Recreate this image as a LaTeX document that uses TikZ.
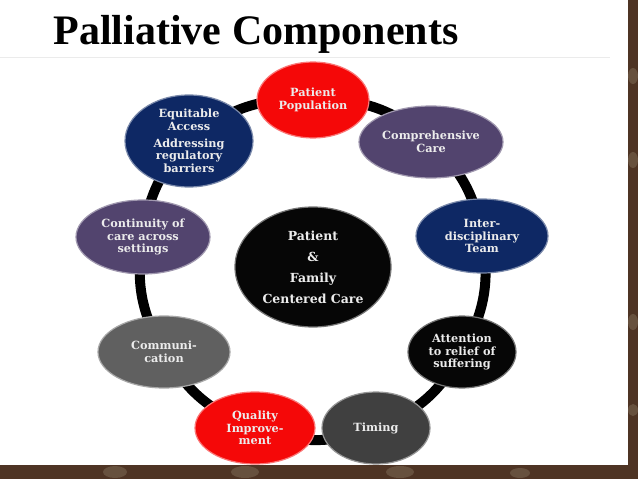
\documentclass[tikz,border=0pt]{standalone}
\usepackage{fontspec}
\setmainfont{Liberation Serif}
\newfontfamily\bubfont{DejaVu Serif}
\usetikzlibrary{shapes.geometric}
\pgfdeclarelayer{bgl}
\pgfdeclarelayer{ringl}
\pgfsetlayers{bgl,ringl,main}
\definecolor{cred}{RGB}{245,8,8}
\definecolor{cnavy}{RGB}{14,40,100}
\definecolor{cpurple}{RGB}{82,68,110}
\definecolor{cgray}{RGB}{96,96,96}
\definecolor{cdgray}{RGB}{64,64,64}
\definecolor{cblack}{RGB}{6,6,6}
\definecolor{ctext}{RGB}{236,236,236}
\definecolor{cwood}{RGB}{78,52,36}
\definecolor{cwoodlight}{RGB}{125,105,85}
\definecolor{crule}{RGB}{235,235,235}
\tikzset{
  bubble/.style={ellipse, inner sep=0pt, draw=#1!55!white, line width=1.2pt, fill=#1,
    text=ctext, align=center, font=\bubfont\bfseries\fontsize{11.3}{12.7}\selectfont},
  ring/.style={line width=10pt, draw=black},
  title/.style={font=\bfseries\fontsize{42}{48}\selectfont, text=black, inner sep=0pt},
  woodspot/.style={fill=cwoodlight, opacity=0.55}
}
\begin{document}
\begin{tikzpicture}[x=1pt,y=-1pt]
\useasboundingbox (0,0) rectangle (638,479);
\begin{pgfonlayer}{bgl}
\fill[cwood] (0,0) rectangle (638,479);
\fill[woodspot] (115,472) ellipse (12pt and 6pt);
\fill[woodspot] (245,472) ellipse (14pt and 6pt);
\fill[woodspot] (400,472) ellipse (14pt and 6pt);
\fill[woodspot] (520,473) ellipse (10pt and 5pt);
\fill[woodspot] (633,76) ellipse (5pt and 8pt);
\fill[woodspot] (633,160) ellipse (5pt and 8pt);
\fill[woodspot] (633,322) ellipse (5pt and 8pt);
\fill[woodspot] (633,410) ellipse (5pt and 6pt);
\fill[white] (0,0) rectangle (628,465);
\draw[crule, line width=0.8pt] (0,57) -- (610,57);
\end{pgfonlayer}

\node[title, anchor=base] (title) at (256,45) {Palliative Components};

\node[bubble=cred, minimum width=112pt, minimum height=76pt] (pp) at (313,100) {Patient\\Population};
\node[bubble=cpurple, minimum width=144pt, minimum height=72pt] (cc) at (431,142) {Comprehensive\\Care};
\node[bubble=cnavy, minimum width=132pt, minimum height=74pt] (it) at (482,236) {Inter-\\disciplinary\\Team};
\node[bubble=cblack, minimum width=108pt, minimum height=72pt] (at) at (462,352) {Attention\\to relief of\\suffering};
\node[bubble=cdgray, minimum width=108pt, minimum height=72pt] (ti) at (376,428) {Timing};
\node[bubble=cred, minimum width=120pt, minimum height=72pt] (qi) at (255,428) {Quality\\Improve-\\ment};
\node[bubble=cgray, minimum width=132pt, minimum height=72pt] (co) at (164,352) {Communi-\\cation};
\node[bubble=cpurple, minimum width=134pt, minimum height=74pt] (ct) at (143,237) {Continuity of\\care across\\settings};
\node[bubble=cnavy, minimum width=128pt, minimum height=92pt] (ea) at (189,141) {Equitable\\Access\\[4pt]Addressing\\regulatory\\barriers};
\node[bubble=cblack, minimum width=156pt, minimum height=120pt,
  font=\bubfont\bfseries\fontsize{12.5}{21}\selectfont] (pf) at (313,267) {Patient\\\&\\Family\\Centered Care};

\begin{pgfonlayer}{ringl}
\draw[ring] (pp.center) to[bend left=22] (cc.center);
\draw[ring] (cc.center) to[bend left=18] (it.center);
\draw[ring] (it.center) to[bend left=20] (at.center);
\draw[ring] (at.center) to[bend left=20] (ti.center);
\draw[ring] (ti.center) to[bend left=20] (qi.center);
\draw[ring] (qi.center) to[bend left=20] (co.center);
\draw[ring] (co.center) to[bend left=20] (ct.center);
\draw[ring] (ct.center) to[bend left=18] (ea.center);
\draw[ring] (ea.center) to[bend left=22] (pp.center);
\end{pgfonlayer}
\end{tikzpicture}
\end{document}
